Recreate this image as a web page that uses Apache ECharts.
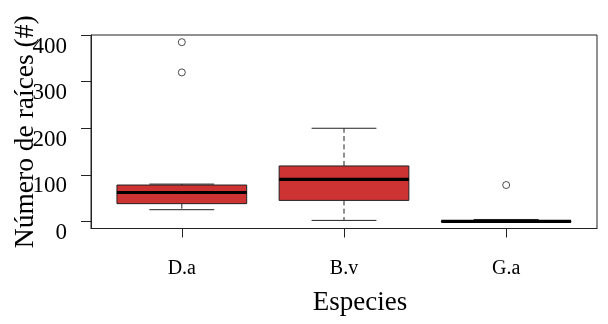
<!DOCTYPE html>
<html>
<head>
<meta charset="utf-8">
<script src="https://cdn.jsdelivr.net/npm/echarts@6/dist/echarts.min.js"></script>
<style>html,body{margin:0;padding:0;background:#fff}#c{width:608px;height:324px}</style>
</head>
<body>
<div id="c"></div>
<script>
// Data
var categories = ['D.a', 'B.v', 'G.a'];
var whiskerLow = [25, 2, 0];
var q1 = [38, 45, 0];
var median = [62, 90, 0];
var q3 = [78, 119, 0.5];
var whiskerHigh = [80, 200, 4];
var outlierCat = [0, 0, 2];
var outlierVal = [385, 320, 78];
var yTicks = [0, 100, 200, 300, 400];

var FONT = 'Liberation Serif';
var boxData = categories.map(function (c, i) {
  return [i + 1, whiskerLow[i], q1[i], median[i], q3[i], whiskerHigh[i]];
});
var outData = outlierCat.map(function (c, i) { return [c + 1, outlierVal[i]]; });

var chart = echarts.init(document.getElementById('c'), null, {renderer: 'canvas'});
chart.setOption({
  animation: false,
  backgroundColor: '#fff',
  textStyle: {fontFamily: FONT},
  grid: {left: 91, top: 35, right: 11, bottom: 95.5, containLabel: false, outerBoundsMode: 'none',
    show: true, borderColor: '#222', borderWidth: 1, backgroundColor: 'transparent'},
  xAxis: {
    type: 'value', min: 0.44, max: 3.56,
    splitLine: {show: false},
    axisLine: {show: true, onZero: false, lineStyle: {color: '#222', width: 1}},
    axisTick: {show: true, length: 9, customValues: [1, 2, 3], lineStyle: {color: '#222'}},
    axisLabel: {customValues: [1, 2, 3], margin: 30, color: '#000', fontFamily: FONT, fontSize: 20,
      formatter: function (v) { return categories[Math.round(v) - 1] || ''; }},
    name: 'Especies', nameLocation: 'middle', nameGap: 61, nameMoveOverlap: false,
    nameTextStyle: {color: '#000', fontFamily: FONT, fontSize: 27, padding: [0, 0, 0, 32]}
  },
  yAxis: {
    type: 'value', min: -15.4, max: 400.4,
    splitLine: {show: false},
    axisLine: {show: true, onZero: false, lineStyle: {color: '#222', width: 1}},
    axisTick: {show: true, length: 10, customValues: yTicks, lineStyle: {color: '#222'}},
    axisLabel: {customValues: yTicks, margin: 24, color: '#000', fontFamily: FONT, fontWeight: 'normal', fontSize: 23, verticalAlign: 'top',
      formatter: function (v) { return categories && String(v); }},
    name: 'Número de raíces (#)', nameLocation: 'middle', nameGap: 51, nameRotate: 90, nameMoveOverlap: false,
    nameTextStyle: {color: '#000', fontFamily: FONT, fontSize: 27.5}
  },
  series: [
    {
      type: 'custom',
      data: boxData,
      clip: false,
      encode: {x: 0, y: [1, 2, 3, 4, 5]},
      renderItem: function (params, api) {
        var x = api.value(0);
        var lo = api.value(1), a = api.value(2), m = api.value(3), b = api.value(4), hi = api.value(5);
        var pL = api.coord([x - 0.4, a]), pR = api.coord([x + 0.4, b]);
        var sL = api.coord([x - 0.2, lo])[0], sR = api.coord([x + 0.2, lo])[0];
        var cx = api.coord([x, 0])[0];
        var yLo = api.coord([x, lo])[1], yA = pL[1], yM = api.coord([x, m])[1], yB = pR[1], yHi = api.coord([x, hi])[1];
        var dash = {stroke: '#222', lineWidth: 1, lineDash: [5, 3.3]};
        var solid = {stroke: '#222', lineWidth: 1};
        return {
          type: 'group',
          children: [
            {type: 'line', shape: {x1: cx, y1: yA, x2: cx, y2: yLo}, style: dash},
            {type: 'line', shape: {x1: cx, y1: yB, x2: cx, y2: yHi}, style: dash},
            {type: 'line', shape: {x1: sL, y1: yLo, x2: sR, y2: yLo}, style: solid},
            {type: 'line', shape: {x1: sL, y1: yHi, x2: sR, y2: yHi}, style: solid},
            {type: 'rect', shape: {x: pL[0], y: yB, width: pR[0] - pL[0], height: Math.max(yA - yB, 0.5)},
              style: {fill: '#CD3333', stroke: '#222', lineWidth: 1}},
            {type: 'line', shape: {x1: pL[0], y1: yM, x2: pR[0], y2: yM}, style: {stroke: '#000', lineWidth: 3.2}}
          ]
        };
      }
    },
    {
      type: 'scatter',
      data: outData,
      symbol: 'circle', symbolSize: 7,
      itemStyle: {color: '#fff', borderColor: '#222', borderWidth: 1}
    }
  ]
});
</script>
</body>
</html>
